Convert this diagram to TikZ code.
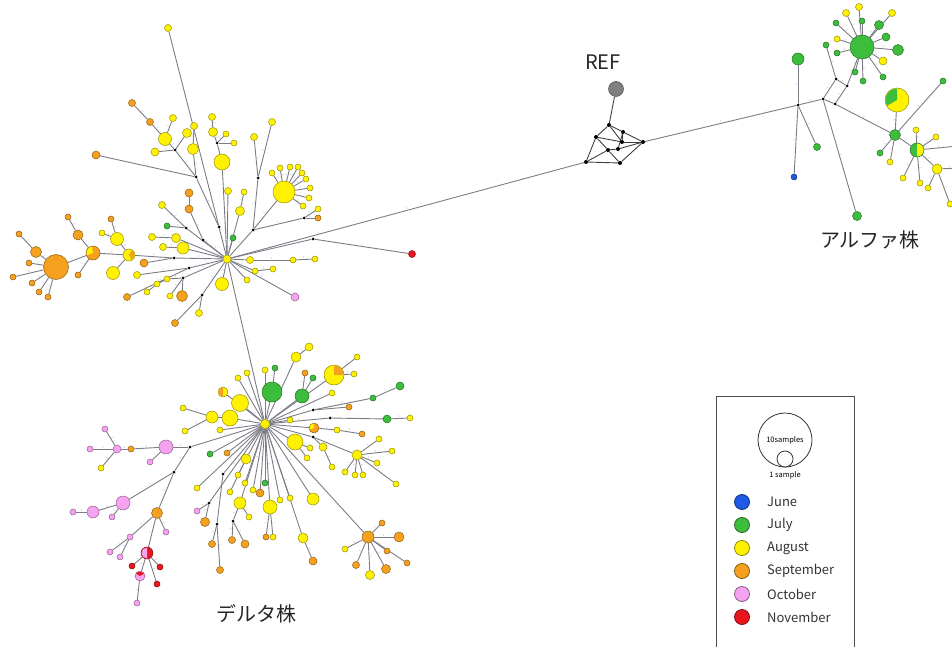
\documentclass[tikz,border=0pt]{standalone}
\usepackage{fontspec}
\newfontfamily\cjk{Noto Sans CJK JP}
\usepackage{tikz}
\usetikzlibrary{backgrounds}
\definecolor{jun}{HTML}{1E5AE6}
\definecolor{jul}{HTML}{3CBE3C}
\definecolor{aug}{HTML}{FFF200}
\definecolor{sep}{HTML}{F5A01E}
\definecolor{oct}{HTML}{F5A3F0}
\definecolor{nov}{HTML}{E8141E}
\definecolor{linec}{HTML}{7C7C86}
\definecolor{mutc}{HTML}{9A90C0}
\tikzset{%
	hap/.style       = {circle, fill=#1, draw=#1!60!black, line width=0.5pt, inner sep=0pt, minimum size=7pt},
	mv/.style        = {circle, fill=black, inner sep=0pt, minimum size=3pt},
	link/.style      = {draw=linec, line width=0.9pt},
	mut/.style       = {font=\fontsize{3}{3}\selectfont, text=mutc, inner sep=0.5pt, midway, above, sloped},
	monthdot/.style  = {circle, fill=#1, draw=#1!55!black, line width=0.8pt, minimum size=15pt, inner sep=0pt},
	monthtext/.style = {right, font=\cjk\fontsize{13}{15}\selectfont, text=black!80, inner sep=0pt},
	strain/.style    = {font=\cjk\fontsize{20}{24}\selectfont, text=black!85},
}
% wedge of a second colour inside a haplotype circle
\newcommand{\pieslice}[5]{\fill[#2] (#1.center) -- ++(#3:#5pt) arc[start angle=#3, end angle=#4, radius=#5pt] -- cycle;}

\begin{document}
\begin{tikzpicture}[x=1pt, y=-1pt]
	\useasboundingbox (0,0) rectangle (952,647);
	
	% Delta, upper star
	\foreach \nm/\px/\py/\col/\sz in {h1/227/259/aug/8, u1/168/28/aug/7, u2/165/139/aug/13, u3/150/122/sep/7, u4/132/103/sep/7,
		u5/173/118/aug/7, u6/155/152/aug/8, u7/187/133/aug/9, u8/193/149/aug/11, u9/194/126/aug/7, u10/96/155/sep/8,
		u11/212/117/aug/7, u12/213/132/aug/9, u13/226/134/aug/6, u14/234/143/aug/6, u15/222/162/aug/16,
		u16/254/137/aug/7, u17/272/122/aug/7, u18/284/192/aug/22, u19/318/209/aug/6, u20/318/218/sep/6,
		s1/272/173/aug/6, s2/280/168/aug/6, s3/290/167/aug/6, s4/298/167/aug/6, s5/302/173/aug/6, s6/306/179/aug/6,
		s7/310/188/aug/6, s8/309/198/aug/6, s9/303/206/aug/6,
		u21/189/193/sep/8, u22/189/209/sep/8, u23/162/205/aug/7, u24/167/226/jul/6, u25/228/191/aug/7, u26/244/192/aug/6,
		u27/240/211/aug/9, u28/233/238/jul/6, u30/56/267/sep/25, u31/36/252/sep/11, u32/19/234/sep/6, u33/29/263/sep/6,
		u34/13/277/sep/6, u35/32/283/sep/6, u36/39/292/sep/6, u37/48/297/sep/6, u38/93/253/sep/14, u39/78/235/sep/10,
		u40/68/217/sep/6, u41/78/275/sep/6, u42/129/255/aug/12, u43/117/239/aug/13, u44/111/219/sep/6, u45/102/233/aug/6,
		u46/113/273/aug/13, u47/144/263/sep/8, u48/152/237/aug/7, u49/176/238/aug/9, u50/183/248/aug/12, u51/163/247/aug/7,
		u52/137/275/aug/7, u53/127/297/sep/7, u54/147/292/aug/6, u55/157/284/aug/6, u56/167/279/aug/6, u57/182/296/sep/11,
		u58/170/296/aug/6, u59/199/313/aug/7, u60/175/323/sep/7, u61/222/284/aug/13, u62/250/260/aug/7, u63/293/260/aug/6,
		u64/315/259/aug/6, u65/255/271/aug/6, u66/273/269/aug/6, u67/247/280/aug/6, u68/295/297/oct/8, u69/412/254/nov/7}
		\node[hap=\col, minimum size=\sz] (\nm) at (\px,\py) {};
	\foreach \nm/\px/\py in {m1/219/227, m2/196/177, m3/175/150, m4/217/143, m5/258/178, m6/253/230, m7/304/218,
		m8/203/240, m9/186/228, m10/174/258, m11/189/268, m13/183/278, m15/202/295, m16/313/239}
		\node[mv] (\nm) at (\px,\py) {};
	
	% Delta, lower star
	\foreach \nm/\px/\py/\col/\sz in {h2/265/424/aug/9, l1/272/392/jul/20, l2/302/396/jul/14, l3/313/378/jul/6, l4/305/373/sep/6,
		l5/334/375/aug/20, l6/357/357/aug/6, l7/354/374/aug/6, l8/296/357/aug/10, l9/309/347/aug/8, l10/275/368/jul/6,
		l11/265/370/aug/6, l12/247/373/aug/6, l13/238/378/aug/6, l14/240/403/aug/17, l15/230/418/aug/16, l16/212/417/aug/12,
		l17/183/408/aug/6, l18/185/431/aug/6, l19/223/392/aug/10, l20/220/430/aug/6, l21/400/386/jul/8, l22/373/398/jul/6,
		l23/349/407/sep/6, l24/332/393/aug/6, l25/410/418/aug/6, l26/387/419/jul/8, l27/290/420/aug/6, l28/314/428/sep/10,
		l29/337/430/aug/6, l30/362/434/sep/6, l31/295/442/aug/16, l32/310/448/aug/6, l33/307/458/aug/6, l34/323/447/aug/8,
		l35/332/467/aug/6, l36/357/455/aug/10, l37/379/439/aug/6, l38/392/451/aug/6, l39/377/463/aug/6, l40/396/484/aug/6,
		l41/355/475/aug/6, l42/363/475/aug/6, l43/345/472/aug/6, l44/368/537/sep/12, l45/382/523/sep/6, l46/399/537/sep/10,
		l47/345/549/aug/6, l48/356/565/sep/7, l49/370/575/aug/9, l50/386/569/sep/9, l51/407/563/sep/6, l52/387/551/sep/6,
		l53/313/499/aug/12, l54/303/538/aug/10, l55/313/561/sep/8, l56/270/507/aug/14, l57/266/537/sep/6, l58/273/537/aug/6,
		l59/260/493/sep/8, l60/265/483/jul/6, l61/280/500/aug/6, l62/290/498/aug/6, l63/246/459/aug/10, l64/238/475/aug/6,
		l65/230/492/aug/6, l66/240/503/aug/12, l67/249/517/aug/6, l68/232/540/sep/7, l69/245/544/sep/8, l70/197/488/aug/6,
		l71/197/511/oct/6, l72/205/522/sep/9, l73/212/544/sep/7, l74/220/570/sep/7, l75/210/454/jul/6, l76/227/453/sep/6,
		l77/245/483/aug/6, l78/253/490/aug/6, l80/166/447/oct/14, l81/131/449/sep/6, l82/117/449/oct/8, l83/90/449/oct/6,
		l84/105/429/oct/6, l85/101/468/aug/6, l86/150/462/oct/6, l87/123/503/oct/14, l88/93/512/oct/12, l89/73/512/oct/6,
		l90/112/517/oct/6, l91/157/513/sep/11, l92/166/532/oct/6, l93/130/537/oct/6, l94/110/552/oct/6, l95/120/557/oct/6,
		l96/147/553/nov/12, l97/132/566/nov/6, l98/160/567/nov/6, l99/157/584/nov/6, l100/140/576/oct/10, l101/137/603/oct/6}
		\node[hap=\col, minimum size=\sz] (\nm) at (\px,\py) {};
	\foreach \nm/\px/\py in {m20/313/410, m21/330/418, m22/313/437, m23/233/521, m24/223/474, m25/209/503, m26/217/524,
		m27/190/447, m28/174/472}
		\node[mv] (\nm) at (\px,\py) {};
	
	% Alpha
	\foreach \nm/\px/\py/\col/\sz in {a1/798/59/jul/12, a2/794/177/jun/6, a3/817/147/jul/7, a4/857/216/jul/9, a5/826/45/jul/6,
		a6/862/47/jul/24, a7/895/135/jul/11, a8/897/100/aug/24, a9/943/81/jul/6, a10/880/153/jul/6, a11/890/162/aug/6,
		a12/917/150/jul/14, a13/937/169/aug/10, b1/846/13/aug/7, b2/859/7/aug/7, b3/892/13/aug/7, b4/883/61/aug/8,
		b5/879/25/jul/9, b6/886/37/jul/8, b7/898/50/jul/11, b8/836/23/jul/6, b9/862/21/jul/6, b10/837/53/jul/6,
		b11/855/72/jul/6, b12/863/81/jul/6, b13/883/77/jul/6, b14/837/39/aug/6, c1/916/130/aug/6, c2/936/137/aug/6,
		c3/920/183/aug/6, c4/903/178/aug/6, c5/958/146/aug/8, c6/928/188/aug/6, c7/950/204/aug/6, c8/960/168/aug/6}
		\node[hap=\col, minimum size=\sz] (\nm) at (\px,\py) {};
	\foreach \nm/\px/\py in {j1/798/105, j2/823/99, j3/836/79, j4/847/86, j5/835/104}
		\node[mv] (\nm) at (\px,\py) {};
	
	% reference and its median web
	\node[hap=gray, minimum size=15] (ref) at (616,89) {};
	\foreach \nm/\px/\py in {r1/609/125, r2/596/137, r3/623/132, r4/622/142, r5/643/142, r6/608/150, r7/618/149, r8/586/162, r9/620/163}
		\node[mv, minimum size=4pt] (\nm) at (\px,\py) {};
	
	% mixed haplotypes
	\pieslice{u38}{aug}{100}{200}{6.5}
	\pieslice{u42}{sep}{-60}{60}{5.5}
	\pieslice{l5}{sep}{0}{90}{9.5}
	\pieslice{l19}{sep}{90}{270}{4.5}
	\pieslice{l28}{aug}{90}{200}{4.5}
	\pieslice{a8}{jul}{90}{210}{11.5}
	\pieslice{a12}{aug}{-90}{90}{6.5}
	\pieslice{l96}{oct}{90}{270}{5.5}
	\pieslice{l100}{nov}{30}{150}{4.5}
	
	\begin{scope}[on background layer]
		\foreach \p/\q in {h1/m1, m1/u1, m1/m2, m2/m3, m3/u2, u2/u3, u3/u4, u2/u5, m3/u6, m3/u7, m2/u8, u8/u9, u10/m2,
			u11/u12, u12/m4, m4/u13, m4/u14, m4/u15, u15/h1, m5/u16, m5/u17, m5/m6, m6/h1, m6/u18, m6/m7, m7/u19, m7/u20,
			u18/s1, u18/s2, u18/s3, u18/s4, u18/s5, u18/s6, u18/s7, u18/s8, u18/s9,
			u21/u22, u22/m8, m8/h1, m9/u23, m9/u24, m9/h1, h1/u25, h1/u27, u27/u26, h1/u28,
			u30/u31, u31/u32, u30/u33, u30/u34, u30/u35, u30/u36, u30/u37, u30/u38, u38/u39, u39/u40, u38/u41, u38/u42,
			u42/u43, u43/u44, u43/u45, u42/u46, u42/m10, m10/h1, m10/u47, u48/u49, u49/h1, u51/u50, u50/h1,
			m11/h1, m11/u52, m11/u53, u54/u55, u55/u56, u56/m13, m13/u57, m13/u58, m13/h1,
			h1/m15, m15/u59, m15/u60, h1/u61, h1/u62, u62/u63, u63/u64, h1/u65, u65/u66, h1/u67, h1/u68, h1/m16, m16/u69}
			\draw[link] (\p) -- node[mut]{1} (\q);
		\foreach \p/\q in {h2/l1, h2/l2, l2/l3, l2/l4, h2/l5, l5/l6, l5/l7, h2/l8, l8/l9, l1/l10, h2/l11, h2/l12, h2/l13,
			h2/l14, h2/l15, l15/l16, l16/l17, l16/l18, h2/l19, h2/l20, h2/m20, m20/l22, l22/l21, m20/l23, h2/l24, h2/m21,
			m21/l26, l26/l25, h2/l27, h2/l28, l28/l29, l29/l30, h2/l31, l31/l32, l31/l33, h2/m22, m22/l34, l34/l35, m22/l36,
			l36/l37, l36/l38, l36/l39, l36/l40, l36/l41, l36/l42, l36/l43, h2/l44, l44/l45, l44/l46, l44/l47, l44/l48,
			l44/l49, l44/l50, l44/l51, l44/l52, h2/l53, h2/l54, l54/l55, h2/l56, l56/l57, l56/l58, h2/l59, h2/l60, h2/l61,
			h2/l62, h2/l63, l63/l64, l63/l65, h2/l66, l66/l67, l66/m23, m23/l68, m23/l69, h2/l70, h2/m25, m25/l71, m25/l72,
			h2/m24, m24/m26, m26/l73, m26/l74, h2/l75, h2/l76, h2/l77, h2/l78, h2/m27, m27/l80, l80/l81, l81/l82, l82/l83,
			l82/l84, l82/l85, l80/l86, m27/m28, m28/l87, l87/l88, l88/l89, l87/l90, m28/l91, l91/l92, l91/l93, l93/l94,
			l93/l95, l91/l96, l96/l97, l96/l98, l96/l99, l96/l100, l100/l101}
			\draw[link] (\p) -- node[mut]{1} (\q);
		\foreach \p/\q in {j1/a1, j1/a2, j1/a3, j1/j2, j2/j3, j3/j4, j4/j5, j5/j2, j2/a4, j3/a5, j4/a6,
			a6/b1, a6/b2, a6/b3, a6/b4, a6/b5, a6/b6, a6/b7, a6/b8, a6/b9, a6/b10, a6/b11, a6/b12, a6/b13, a6/b14,
			j5/a7, a7/a8, a7/a9, a7/a10, a7/a11, a7/a12, a12/c1, a12/c2, a12/c3, a12/c4, a12/c5, a12/a13,
			a13/c6, a13/c7, a13/c8}
			\draw[link] (\p) -- node[mut]{1} (\q);
		\foreach \p/\q in {ref/r1, r1/r2, r1/r3, r1/r4, r2/r8, r2/r4, r2/r6, r3/r5, r3/r4, r3/r7, r4/r5, r6/r7,
			r6/r8, r7/r5, r8/r9, r9/r5, r6/r9}
			\draw[link, draw=black!75] (\p) -- (\q);
		% long branches between the groups
		\draw[link] (h1) -- node[mut]{1} (h2);
		\draw[link] (h1) -- node[mut]{1} (r8);
		\draw[link] (r5) -- node[mut]{1} (j1);
	\end{scope}
	
	\node[strain] (reflabel) at (603,62) {REF};
	\node[strain] (alphalabel) at (870,240) {アルファ株};
	\node[strain] (deltalabel) at (256,614) {デルタ株};
	
	% legend
	\draw[black!70, line width=0.9pt] (716,396) rectangle (854,662);
	\node[circle, draw=black!80, line width=0.8pt, minimum size=54, inner sep=0pt] (ten) at (785,440) {};
	\node[circle, draw=black!80, fill=white, line width=0.8pt, minimum size=16, inner sep=0pt] (one) at (785,459) {};
	\node[font=\cjk\fontsize{7.5}{8}\selectfont] at (785,440) {10samples};
	\node[font=\cjk\fontsize{7.5}{8}\selectfont] at (785,475) {1 sample};
	\foreach \col/\txt [count=\i] in {jun/June, jul/July, aug/August, sep/September, oct/October, nov/November} {
		\node[monthdot=\col] (dot\i) at (742,{479+23*\i}) {};
		\node[monthtext] (txt\i) at (767,{479+23*\i}) {\txt};
	}
\end{tikzpicture}
\end{document}
